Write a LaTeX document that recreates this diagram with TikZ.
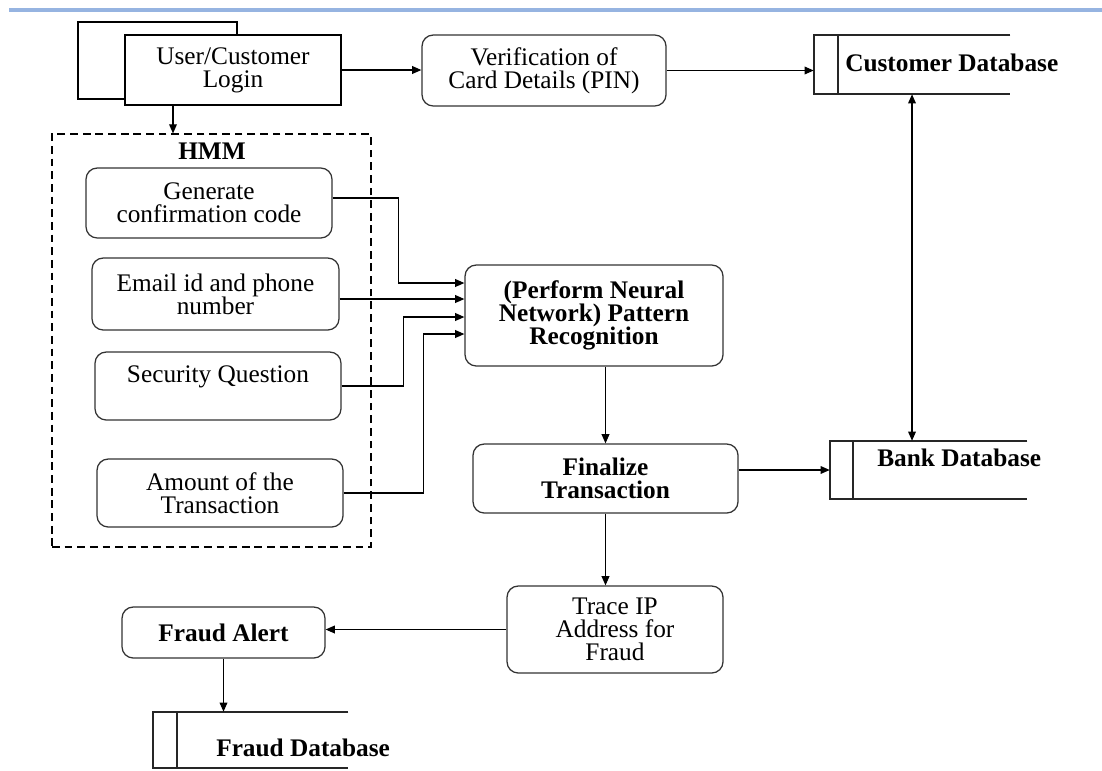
\documentclass[tikz,border=0pt]{standalone}
\usepackage{fontspec}
\setmainfont{Liberation Serif}
\usetikzlibrary{arrows.meta}
\definecolor{topline}{RGB}{150,180,225}
\newcommand{\fs}{\fontsize{18}{16.5}\selectfont}
\def\pxu{0.025cm}

\begin{document}
\begin{tikzpicture}[x=0.025cm, y=-0.025cm,
  sz/.style 2 args={minimum width=#1*\pxu, minimum height=#2*\pxu},
  pbox/.style={rectangle, draw, line width=0.9pt, fill=white, inner sep=0pt, align=center, font=\fs},
  rbox/.style={pbox, draw=black!80, rounded corners=8pt},
  bf/.style={font=\fs\bfseries},
  db/.style={black!85, line width=1.3pt},
  txt/.style={font=\fs\bfseries, inner sep=0pt},
  a/.style={-{Triangle[length=6.5pt,width=5.5pt]}, line width=0.8pt},
  aa/.style={{Triangle[length=6.5pt,width=5.5pt]}-{Triangle[length=6.5pt,width=5.5pt]}, line width=0.8pt}]
\useasboundingbox (0,0) rectangle (1102,770);
\draw[topline, line width=2.2pt] (9,10) -- (1102,10);

% top row
\node[pbox, sz={159}{77}] (back) at (157.5,60.5) {};
\node[pbox, sz={216}{70}] (login) at (233,70) {User/Customer\\Login};
\node[rbox, sz={244}{71}] (verif) at (544,70.5) {Verification of\\Card Details (PIN)};

% HMM group
\node[draw, dash pattern=on 5.5pt off 3.5pt, line width=0.8pt, sz={319}{413}] (hmm) at (211.5,340.5) {};
\node[txt] (hmmt) at (212,151) {HMM};
\node[rbox, sz={246}{70}] (gen) at (209,203) {Generate\\confirmation code};
\node[rbox, sz={247}{72}] (email) at (215.5,294) {Email id and phone\\number};
\node[rbox, sz={246}{68}] (secq) at (218,386) {Security Question\\ \mbox{}};
\node[rbox, sz={246}{68}] (amount) at (220,493) {Amount of the\\Transaction};

% processing
\node[rbox, bf, sz={258}{101}] (pat) at (594,315.5) {(Perform Neural\\Network) Pattern\\Recognition};
\node[rbox, bf, sz={265}{69}] (fin) at (605.5,478.5) {Finalize\\Transaction};
\node[rbox, sz={216}{87}] (trace) at (615,629.5) {Trace IP\\Address for\\Fraud};
\node[rbox, bf, sz={203}{51}] (alert) at (223.5,632.5) {Fraud Alert};

% data stores
\node[sz={196}{59}, inner sep=0pt] (cdb) at (912,64.5) {};
\node[sz={197}{58}, inner sep=0pt] (bdb) at (928.5,470) {};
\node[sz={195}{56}, inner sep=0pt] (fdb) at (250.5,740) {};
\foreach \d/\w in {cdb/24,bdb/23,fdb/24} {
  \draw[db] (\d.north east) -- (\d.north west) -- (\d.south west) -- (\d.south east);
  \draw[db] ([xshift=\w*\pxu]\d.north west) -- ([xshift=\w*\pxu]\d.south west);
}
\node[txt, anchor=west] (cdbt) at (845,63) {Customer Database};
\node[txt, anchor=west] (bdbt) at (877,458) {Bank Database};
\node[txt, anchor=west] (fdbt) at (216,748) {Fraud Database};

% flows
\draw[a] ([xshift=-60*\pxu]login.south) coordinate (p) -- (p |- hmm.north);
\draw[a] (login.east) -- (login.east -| verif.west);
\draw[a] (verif.east) -- (verif.east -| cdb.west);
\draw[a] ([yshift=5*\pxu]gen.east) -- ++(66,0) |- ([yshift=32.5*\pxu]pat.west);
\draw[a] ([yshift=-5*\pxu]email.east) -- ([yshift=16.5*\pxu]pat.west);
\draw[a] (secq.east) -- ++(62,0) |- ([yshift=-1.5*\pxu]pat.west);
\draw[a] (amount.east) -- ++(80,0) |- ([yshift=-18.5*\pxu]pat.west);
\draw[a] (pat.south -| fin.north) -- (fin.north);
\draw[a] (fin.east |- bdb.west) -- (bdb.west);
\draw[aa] (cdb.south) -- (cdb.south |- bdb.north);
\draw[a] (fin.south) -- (fin.south |- trace.north);
\draw[a] (trace.west) -- (trace.west -| alert.east);
\draw[a] (alert.south) -- (alert.south |- fdb.north);
\end{tikzpicture}
\end{document}
